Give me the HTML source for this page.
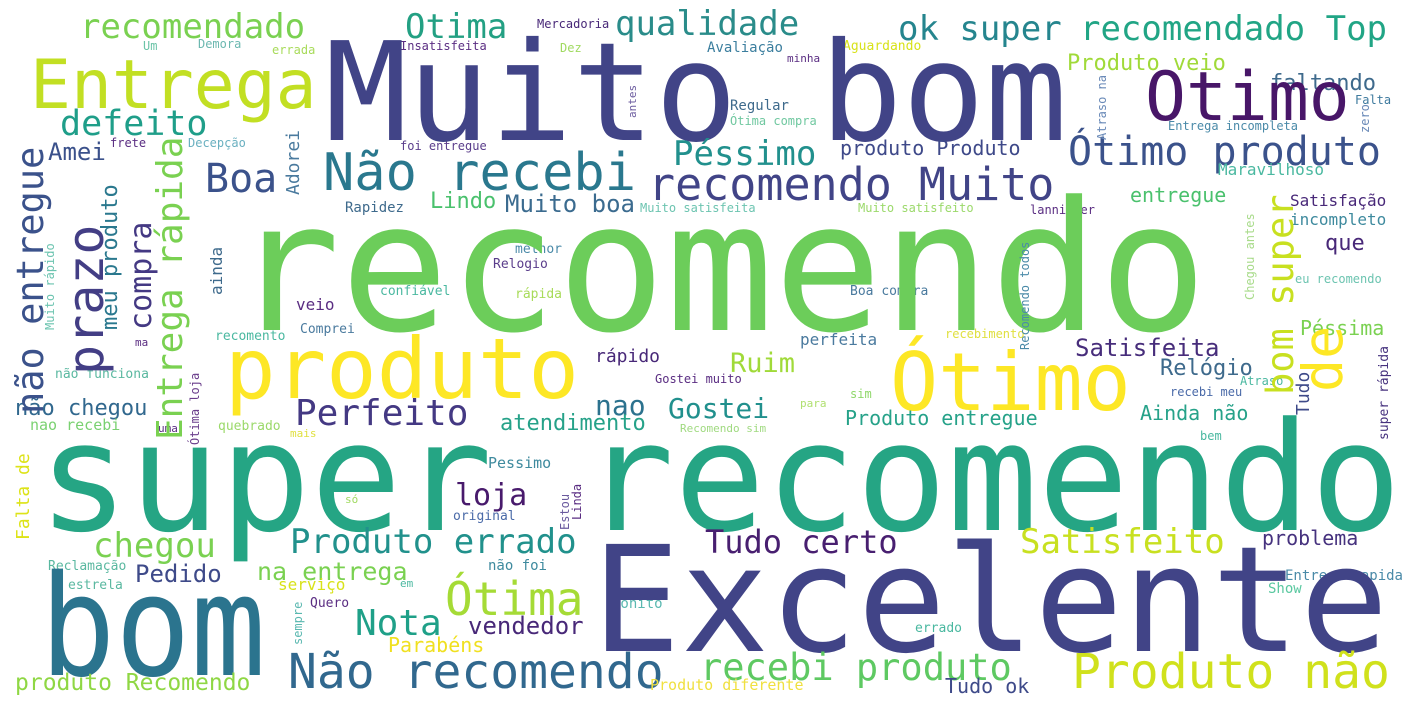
<!DOCTYPE html>
<html><head><meta charset="utf-8">
<style>
html,body{margin:0;padding:0;background:#fff;}
svg{display:block;}
text{font-family:"DejaVu Sans Mono","Liberation Mono",monospace;}
</style></head>
<body>
<svg id="cloud" width="1415" height="717" viewBox="0 0 1415 717" xmlns="http://www.w3.org/2000/svg">
<rect width="1415" height="717" fill="#ffffff"/>
</svg>
<script>
// horizontal words: text, left x, baseline y, font size, colour
const hWords = ["recomendado","Otima","qualidade","Mercadoria","Um","Demora","errada","Insatisfeita","Dez","Avaliação","Aguardando","minha","ok super","recomendado Top","Produto veio","faltando","Falta","Entrega","Muito bom","Otimo","defeito","Amei","frete","Decepção","foi entregue","Não recebi","Boa","Péssimo","produto Produto","Ótimo produto","Ótima compra","Entrega incompleta","Regular","recomendo Muito","Maravilhoso","Rapidez","Lindo","Muito boa","Muito satisfeita","Muito satisfeito","lannister","entregue","Satisfação","incompleto","que","eu recomendo","Péssima","melhor","Relogio","confiável","rápida","Boa compra","veio","Comprei","recomento","ma","perfeita","recebimento","Satisfeita","recomendo","produto","rápido","Ótimo","Ruim","Relógio","Gostei muito","Atraso","recebi meu","sim","para","Produto entregue","Ainda não","bem","Recomendo sim","Gostei","nao","Perfeito","atendimento","não chegou","nao recebi","não funciona","uma","quebrado","mais","super recomendo","Pessimo","loja","só","original","chegou","Produto errado","Tudo certo","Satisfeito","problema","errado","Entrega rapida","Reclamação","Pedido","estrela","na entrega","não foi","serviço","em","Quero","Ótima","bonito","Show","bom","Excelente","Nota","vendedor","Parabéns","Não recomendo","recebi produto","Produto não","Produto diferente","Tudo ok","produto Recomendo"];
const hX = [80,405,615,537,143,198,272,400,560,707,843,787,898,1080,1067,1270,1355,30,325,1145,60,48,110,188,400,323,205,673,840,1068,730,1168,730,648,1218,345,430,505,640,858,1030,1130,1290,1290,1325,1295,1300,515,493,380,515,850,296,300,215,135,800,945,1075,232,225,595,890,730,1160,655,1240,1170,850,800,845,1140,1200,680,668,595,295,500,15,30,55,158,218,290,38,488,455,345,453,93,290,705,1020,1262,915,1285,48,135,68,257,488,278,400,310,445,612,1268,40,592,355,468,388,288,700,1072,650,945,15];
const hY = [38,38,35,28,50,48,54,50,52,52,50,62,40,40,70,90,104,108,140,120,135,160,147,147,150,190,192,165,155,165,125,130,110,200,175,212,208,212,212,212,214,202,206,225,250,283,335,253,268,295,298,295,310,333,340,346,345,338,356,330,398,362,410,372,375,383,385,396,398,407,425,420,440,432,418,415,425,430,415,430,378,432,430,437,530,468,505,503,520,557,553,553,553,545,632,580,570,582,589,580,570,590,587,607,615,608,593,675,651,635,634,652,688,680,688,690,693,690];
const hSize = [34,34,34,12,12,12,12,12,12,14,13,11,34,34,22,22,12,68,137,68,35,24,12,12,12,52,40,34,20,40,12,12,14,45,16,14,22,24,12,12,12,20,16,16,22,12,20,13,13,13,13,13,16,13,13,11,16,12,24,180,84,18,80,27,22,12,12,12,12,11,20,20,12,11,28,28,36,22,22,15,13,11,13,11,151,15,30,11,13,34,34,32,34,20,13,14,13,24,13,25,14,16,11,13,46,14,14,140,147,36,24,20,48,37,48,15,20,23];
const hColor = ["#7ad151","#23a083","#2a8c8a","#482878","#6cc4a8","#6cb8b0","#a8db5a","#5a2d82","#a0da60","#3b7e9e","#d8e219","#5a2d82","#25858e","#21a585","#a0da39","#3e6a8c","#3e7a9e","#c2df23","#414487","#481668","#1f9e89","#3b518b","#5a2d82","#6ab0c0","#5a3d8b","#2a788e","#3b528b","#21908d","#3e4989","#3b528b","#70c8a0","#4a8aa8","#3e6a8c","#414487","#4ab8a0","#3e6a8c","#4ac16d","#3b6b8f","#6cc4b0","#9bd96a","#5a2d82","#4ac16d","#482878","#3e8a9e","#482878","#6cc4b0","#7ad151","#4a8aa8","#5a3d8b","#4ab8a0","#a8db5a","#4a7a9e","#5a2d82","#4a7a9e","#4ab8a0","#5a2d82","#4a7a9e","#e0e040","#472d7b","#6ccd5a","#fde725","#482878","#fde725","#a0da39","#3e6a8c","#5a2d82","#4ab8a0","#4a6aa8","#8fd76a","#b0e070","#26a289","#26a289","#4ab8a0","#a0da80","#21908d","#2c728e","#443983","#26a289","#31688e","#7ad171","#5ab8a0","#5a2d82","#9bd96a","#e0e040","#25a584","#3e8a9e","#481a6c","#a0da60","#4a6aa8","#7ad151","#21918c","#481f70","#c8e020","#46327e","#4ab8a0","#4a8aa8","#5ab8a0","#3e4a89","#5ab8a0","#7ad151","#3e8a9e","#d8e219","#4ab8a0","#5a2d82","#a5db36","#5ab8b0","#5ac8a0","#2b748e","#414487","#1fa088","#482878","#f0e020","#31688e","#5ec962","#d0e11c","#f0e040","#3e4a89","#8fd744"];
// vertical words (rotated, reading bottom-to-top): text, baseline x, bottom y, font size, colour
const vWords = ["não entregue","prazo","meu produto","compra","Entrega rápida","Muito rápido","Adorei","ainda","antes","Ótima loja","Falta de","sempre","Estou","Linda","Atraso na","zero","Recomendo todos","Chegou antes","bom super","de","super rápida","Tudo"];
const vX = [43,103,117,151,182,54,299,222,636,199,29,302,569,581,1106,1369,1029,1254,1293,1342,1388,1309];
const vY = [414,375,330,330,440,330,195,295,118,445,540,645,530,520,140,133,350,300,395,392,440,415];
const vSize = [37,50,22,30,36,12,18,16,11,12,18,12,12,12,12,12,12,12,37,55,13,18];
const vColor = ["#3b528b","#433e85","#2a788e","#443983","#7ad151","#6cc4b0","#4a7a9e","#3e6a8c","#6a5a9e","#6a3d8b","#dde318","#5ab8b0","#6a5a9e","#5a2d82","#6a8ab8","#6a8ab8","#4a8aa8","#a8db8a","#c8e020","#fde725","#46327e","#3e4a89"];

const NS = "http://www.w3.org/2000/svg";
const svg = document.getElementById("cloud");
function slug(t){return t.normalize("NFD").replace(/[\u0300-\u036f]/g,"").toLowerCase().replace(/[^a-z0-9]+/g,"-").replace(/^-|-$/g,"");}
hWords.forEach((w,i)=>{
  const t=document.createElementNS(NS,"text");
  t.setAttribute("x",hX[i]);
  t.setAttribute("y",hY[i]);
  t.setAttribute("font-size",hSize[i]);
  t.setAttribute("fill",hColor[i]);
  if(w.length>1){t.setAttribute("textLength",(0.602*(w==="bom"?125:hSize[i])*w.length).toFixed(1));t.setAttribute("lengthAdjust","spacingAndGlyphs");}
  t.textContent=w;
  
  
  svg.appendChild(t);
});
vWords.forEach((w,i)=>{
  const t=document.createElementNS(NS,"text");
  t.setAttribute("x",0);
  t.setAttribute("y",0);
  t.setAttribute("transform","translate("+vX[i]+","+vY[i]+") rotate(-90)");
  t.setAttribute("font-size",vSize[i]);
  t.setAttribute("fill",vColor[i]);
  t.setAttribute("textLength",(0.602*vSize[i]*w.length).toFixed(1));
  t.setAttribute("lengthAdjust","spacingAndGlyphs");
  t.textContent=w;
  
  
  svg.appendChild(t);
});
</script>
</body></html>
